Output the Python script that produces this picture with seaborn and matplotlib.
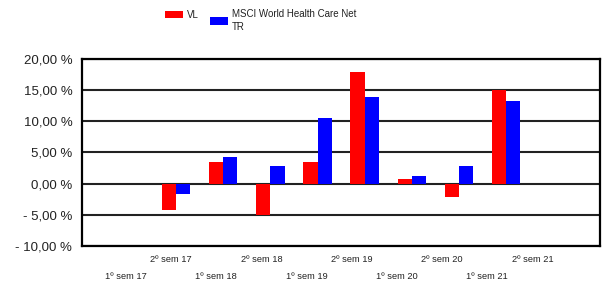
import numpy as np
import pandas as pd
import matplotlib
matplotlib.use("Agg")
import matplotlib.pyplot as plt
import seaborn as sns
from matplotlib.patches import Patch
from matplotlib.ticker import FuncFormatter

# === DATOS ===
periodos = ["1º sem 17", "2º sem 17", "1º sem 18", "2º sem 18", "1º sem 19",
            "2º sem 19", "1º sem 20", "2º sem 20", "1º sem 21", "2º sem 21"]
vl = [np.nan, -4.2, 3.5, -5.0, 3.5, 17.9, 0.8, -2.1, 15.0, np.nan]
msci = [np.nan, -1.7, 4.3, 2.9, 10.6, 13.9, 1.3, 2.9, 13.3, np.nan]
series = ["VL", "MSCI World Health Care Net\nTR"]
colores = ["#FF0000", "#0000FF"]
yticks = [-10, -5, 0, 5, 10, 15, 20]

df = pd.DataFrame({
    "Periodo": periodos * 2,
    "Serie": [series[0]] * len(periodos) + [series[1]] * len(periodos),
    "Valor": vl + msci,
}).dropna()

# === ESTILO ===
sns.set_style("white")
plt.rcParams['font.family'] = ['Liberation Sans', 'DejaVu Sans']
plt.rcParams['text.color'] = '#222222'

fig, ax = plt.subplots(figsize=(6.05, 2.85), dpi=100)
fig.subplots_adjust(left=0.1355, right=0.992, top=0.793, bottom=0.137)

sns.barplot(data=df, x="Periodo", y="Valor", hue="Serie", order=periodos,
            hue_order=series, palette=colores, saturation=1, width=0.6,
            linewidth=0, legend=False, ax=ax)

# === EJES ===
ax.set_xlim(-1, len(periodos))
ax.set_ylim(min(yticks), max(yticks))
ax.set_yticks(yticks)
ax.yaxis.set_major_formatter(FuncFormatter(
    lambda v, p: ("- " if v < 0 else "") + f"{abs(v):.2f}".replace(".", ",") + " %"))
ax.yaxis.grid(True, color='#222222', linewidth=1.5)
ax.set_axisbelow(True)
for s in ax.spines.values():
    s.set_color('black')
    s.set_linewidth(1.6)
ax.tick_params(axis='y', length=4, width=1, color='black', labelsize=9.5,
               pad=3, labelcolor='#222222')
ax.set_xlabel("")
ax.set_ylabel("")

# etiquetas del eje x en dos filas (algo más juntas que las barras)
ax.set_xticks(np.arange(len(periodos)) * 0.959 - 0.07)
ax.set_xticklabels(periodos)
ax.tick_params(axis='x', length=0, labelsize=6.7, labelcolor='#222222')
for i, t in enumerate(ax.xaxis.get_major_ticks()):
    t.set_pad(6.5 if i % 2 == 1 else 18.5)

# === LEYENDA (dos entradas, cada una a su altura) ===
opts = dict(loc='upper left', frameon=False, fontsize=7, borderpad=0, borderaxespad=0,
            handlelength=1.8, handleheight=0.8, handletextpad=0.45)
fig.legend([Patch(facecolor=colores[0], edgecolor='none')], [series[0]],
           bbox_to_anchor=(165 / 605, 1 - 10 / 285), **opts)
leg2 = fig.legend([Patch(facecolor=colores[1], edgecolor='none')], [series[1]],
                  bbox_to_anchor=(210 / 605, 1 - 9 / 285), **opts)
for t in leg2.get_texts():
    t.set_linespacing(1.35)

plt.savefig("out.png", dpi=100)
